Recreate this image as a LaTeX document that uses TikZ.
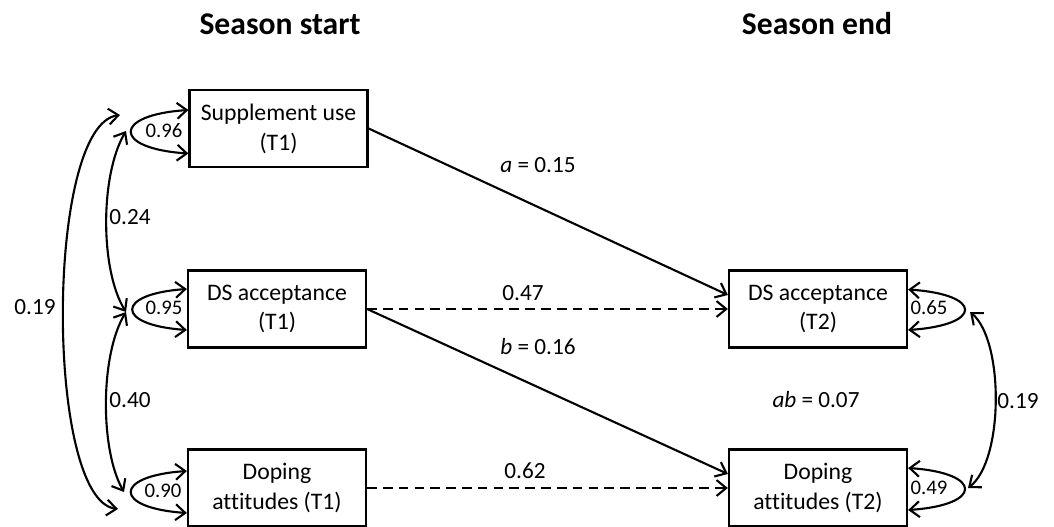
\documentclass[tikz,border=0pt]{standalone}
\usepackage{fontspec}
\setmainfont{Carlito}[RawFeature={-liga;-clig;-dlig}]
\usetikzlibrary{arrows.meta}

\tikzset{
  varbox/.style={draw, line width=1.3pt, minimum width=3.56cm, minimum height=1.54cm, inner sep=0pt, align=center, font=\fontsize{13.5}{17}\selectfont},
  effect/.style={-{Straight Barb[length=5.5pt,width=9pt,line width=1.2pt]}, line width=1.2pt},
  covar/.style={{Straight Barb[length=5.5pt,width=9pt,line width=1.2pt]}-{Straight Barb[length=5.5pt,width=9pt,line width=1.2pt]}, line width=1.2pt},
  coef/.style={font=\fontsize{13.2}{15}\selectfont},
  resid/.style={font=\fontsize{11.8}{13}\selectfont},
  head/.style={font=\fontsize{18}{20}\selectfont\bfseries}
}

\begin{document}
\begin{tikzpicture}[x=0.02cm, y=-0.02cm]
  \useasboundingbox (0,0) rectangle (1054,527);

  \node[head] (hstart) at (280,24) {Season start};
  \node[head] (hend) at (817,24) {Season end};

  \node[varbox] (su1) at (278.5,128.5) {Supplement use\\(T1)};
  \node[varbox] (ds1) at (277,309) {DS acceptance\\(T1)};
  \node[varbox] (da1) at (277,488) {Doping\\attitudes (T1)};
  \node[varbox] (ds2) at (818,309) {DS acceptance\\(T2)};
  \node[varbox] (da2) at (818,488) {Doping\\attitudes (T2)};

  % residual variances
  \draw[covar] ([yshift=0.37cm]su1.west) .. controls +(-76,5) and +(-76,-5) .. ([yshift=-0.5cm]su1.west);
  \draw[covar] ([yshift=0.4cm]ds1.west) .. controls +(-72,5) and +(-72,-5) .. ([yshift=-0.42cm]ds1.west);
  \draw[covar] ([yshift=0.34cm]da1.west) .. controls +(-74,5) and +(-74,-5) .. ([yshift=-0.5cm]da1.west);
  \draw[covar] ([yshift=0.39cm]ds2.east) .. controls +(75,5) and +(75,-5) .. ([yshift=-0.42cm]ds2.east);
  \draw[covar] ([yshift=0.4cm]da2.east) .. controls +(75,5) and +(75,-5) .. ([yshift=-0.44cm]da2.east);
  \node[resid] (r1) at (164,131) {0.96};
  \node[resid] (r2) at (164,308) {0.95};
  \node[resid] (r3) at (163,491) {0.90};
  \node[resid] (r4) at (929,308) {0.65};
  \node[resid] (r5) at (929,488) {0.49};

  % covariances
  \coordinate (c1a) at (120,115);
  \coordinate (c1b) at (126,131);
  \coordinate (c2) at (126,312);
  \coordinate (c3a) at (124,492);
  \coordinate (c3b) at (118,509);
  \coordinate (c4) at (970,312);
  \coordinate (c5) at (968,488);
  \draw[covar] (c1b) .. controls (100,175) and (100,270) .. (c2);
  \draw[covar] (c2) .. controls (100,355) and (100,450) .. (c3a);
  \draw[covar] (c1a) .. controls (45,125) and (45,500) .. (c3b);
  \draw[covar] (c4) .. controls (1004,340) and (1004,460) .. (c5);
  \node[coef] (k1) at (130,217) {0.24};
  \node[coef] (k2) at (130,400) {0.40};
  \node[coef] (k3) at (35,307) {0.19};
  \node[coef] (k4) at (1018,401) {0.19};

  % paths
  \draw[effect] (su1.east) -- ([yshift=0.28cm]ds2.west);
  \draw[effect, dash pattern=on 5.5pt off 3.5pt] (ds1.east) -- (ds2.west);
  \draw[effect] (ds1.east) -- ([yshift=0.28cm]da2.west);
  \draw[effect, dash pattern=on 5.5pt off 3.5pt] (da1.east) -- (da2.west);
  \node[coef] (pa) at (538,165) {\textit{a} = 0.15};
  \node[coef] (p47) at (523,293) {0.47};
  \node[coef] (pb) at (538,347) {\textit{b} = 0.16};
  \node[coef] (p62) at (525,471) {0.62};
  \node[coef] (pab) at (816,400) {\textit{ab} = 0.07};
\end{tikzpicture}
\end{document}
